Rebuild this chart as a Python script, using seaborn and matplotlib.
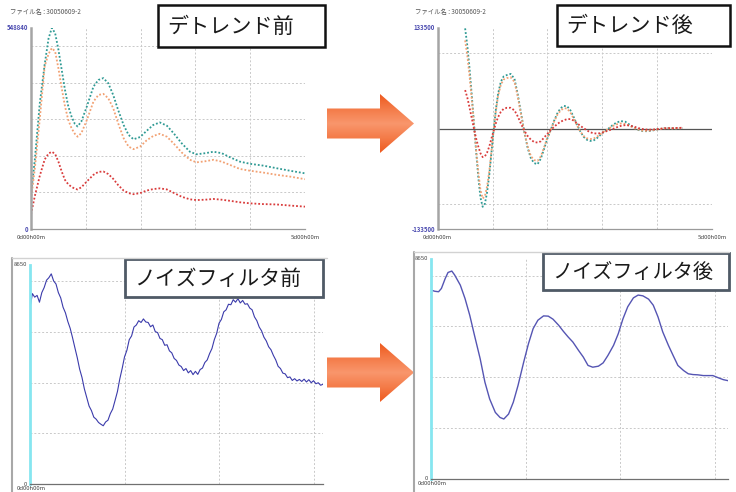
import numpy as np
import matplotlib
matplotlib.use("Agg")
import matplotlib.pyplot as plt
import seaborn as sns
from matplotlib.patches import Polygon, Rectangle
from matplotlib.colors import LinearSegmentedColormap

sns.set_style("white")
plt.rcParams["font.family"] = ["Noto Sans CJK JP", "DejaVu Sans"]

W, H = 736, 492

# detrend before (days, value in thousands)
raw_days = [0.0, 0.07, 0.16, 0.25, 0.32, 0.38, 0.44, 0.50, 0.56, 0.62,
            0.68, 0.74, 0.80, 0.85, 0.92, 1.02, 1.14, 1.23, 1.32, 1.41,
            1.50, 1.59, 1.69, 1.78, 1.87, 1.99, 2.11, 2.23, 2.35, 2.48,
            2.60, 2.75, 2.90, 3.02, 3.18, 3.33, 3.48, 3.63, 3.81, 4.00,
            4.24, 4.48, 4.73, 5.00]
raw_teal = [95, 190, 343, 450, 520, 549, 535, 490, 435, 380,
            335, 307, 287, 280, 294, 335, 389, 407, 412, 398,
            366, 325, 284, 257, 245, 251, 268, 284, 291, 282,
            262, 234, 211, 204, 207, 211, 207, 196, 184, 178,
            173, 166, 159, 152]
raw_orange = [80, 165, 300, 445, 478, 494, 485, 439, 385, 335,
              298, 275, 260, 252, 262, 298, 348, 366, 369, 357,
              330, 289, 248, 225, 218, 225, 242, 254, 260, 252,
              234, 209, 189, 182, 185, 189, 184, 175, 164, 159,
              154, 148, 143, 136]
raw_red = [40, 90, 145, 190, 206, 211, 205, 184, 157, 134,
           122, 115, 110, 108, 114, 130, 148, 156, 157, 150,
           137, 120, 105, 98, 95, 98, 105, 109, 111, 108,
           99, 88, 81, 79, 80, 82, 80, 77, 73, 70,
           68, 67, 64, 61]

# detrend after (days, value in thousands)
det_days = [0.50, 0.54, 0.58, 0.62, 0.66, 0.70, 0.74, 0.78, 0.82, 0.86,
            0.90, 0.94, 0.98, 1.02, 1.06, 1.10, 1.15, 1.20, 1.26, 1.33,
            1.40, 1.46, 1.52, 1.58, 1.64, 1.70, 1.76, 1.82, 1.88, 1.94,
            2.00, 2.06, 2.12, 2.18, 2.24, 2.30, 2.36, 2.42, 2.48, 2.54,
            2.60, 2.66, 2.72, 2.78, 2.84, 2.90, 2.96, 3.02, 3.10, 3.18,
            3.26, 3.34, 3.42, 3.50, 3.58, 3.66, 3.74, 3.82, 3.90, 3.98,
            4.06, 4.14, 4.22, 4.30, 4.38, 4.47]
det_teal = [133, 110, 80, 45, 8, -30, -65, -92, -104, -100,
            -85, -62, -32, -2, 25, 46, 62, 69, 71, 72.5,
            66, 45, 20, -5, -26, -40, -46, -47.5, -40, -27,
            -13, -2, 10, 20, 27, 30, 29.5, 24, 15, 5,
            -4, -11, -15, -16.5, -16, -13, -9, -5, -1, 4,
            8, 9.8, 9, 5, 1, -2, -3.5, -3.6, -3, -1.5,
            -0.5, 0.5, 0.5, 0, 0.3, 0.5]
det_orange = [117, 97, 70, 40, 6, -28, -58, -82, -93, -90,
              -77, -57, -30, -2, 23, 43, 58, 65, 67, 68,
              62, 42, 18, -5, -24, -37, -42, -43, -37, -25,
              -12, -2, 9, 18, 24, 27, 26.5, 21, 13, 4,
              -4, -10, -13, -14, -13.5, -11, -8, -4.5, -1, 3,
              5.5, 6.7, 6, 3.5, 0.5, -1.5, -3, -3.2, -2.5, -1.5,
              -0.5, 0.3, 0.3, 0, 0.3, 0.5]
det_red = [51, 41, 28, 14, 0, -13, -24, -33, -38, -37,
           -32, -24, -13, -3, 7, 15, 22, 26, 27.5, 27.5,
           24, 16, 6, -3, -10, -15, -18, -18.7, -17, -12,
           -7, -2, 2, 6, 9, 11, 12.5, 12.5, 10.5, 7,
           3.5, 0.5, -2.5, -5, -6.3, -6.7, -6.3, -5, -3, -1,
           1.5, 3.5, 4.5, 4, 2.5, 0.5, -0.8, -1.5, -1.5, -1,
           -0.3, 0.3, 0.5, 0.5, 0.8, 1]

# noise filter before: evenly sampled, 0 .. 3.1 days
noisy_vals = [6940, 7520, 7380, 7450, 7180, 7560, 7760, 8050, 8150, 8300,
              8020, 7900, 7560, 7350, 6980, 6760, 6420, 6150, 5780, 5380,
              4990, 4540, 4210, 3760, 3420, 3080, 2900, 2640, 2560, 2430,
              2360, 2300, 2450, 2520, 2780, 2960, 3300, 3650, 4150, 4560,
              5020, 5280, 5700, 5850, 6200, 6280, 6450, 6380, 6520, 6400,
              6380, 6210, 6280, 6020, 5980, 5750, 5700, 5480, 5500, 5260,
              5180, 4960, 4880, 4700, 4640, 4480, 4560, 4390, 4480, 4320,
              4450, 4330, 4520, 4580, 4800, 4900, 5150, 5350, 5700, 5950,
              6350, 6500, 6800, 6880, 7100, 7080, 7280, 7180, 7320, 7150,
              7250, 7100, 7120, 6950, 6880, 6600, 6450, 6200, 6050, 5800,
              5650, 5420, 5300, 5080, 4900, 4650, 4560, 4380, 4350, 4200,
              4230, 4090, 4160, 4070, 4130, 4050, 4140, 4030, 4120, 4000,
              4080, 3960, 4000, 3900, 3940]
noisy_days = np.linspace(0, 3.1, len(noisy_vals))

# noise filter after
filt_days = [0.0, 0.005, 0.04, 0.08, 0.11, 0.15, 0.18, 0.22, 0.25, 0.31,
             0.36, 0.41, 0.46, 0.52, 0.57, 0.62, 0.68, 0.73, 0.77, 0.82,
             0.87, 0.92, 0.98, 1.03, 1.08, 1.13, 1.19, 1.24, 1.29, 1.35,
             1.40, 1.45, 1.50, 1.56, 1.61, 1.66, 1.71, 1.77, 1.82, 1.87,
             1.93, 1.98, 2.03, 2.08, 2.14, 2.19, 2.24, 2.30, 2.35, 2.40,
             2.45, 2.51, 2.56, 2.61, 2.67, 2.72, 2.77, 2.82, 2.88, 2.93,
             2.98, 3.04, 3.09, 3.14]
filt_vals = [6960, 7420, 7380, 7360, 7490, 7880, 8120, 8175, 8020, 7620,
             7090, 6430, 5640, 4720, 3800, 3140, 2610, 2410, 2350, 2545,
             3010, 3670, 4590, 5310, 5910, 6240, 6410, 6400, 6280, 6040,
             5800, 5580, 5380, 5050, 4790, 4460, 4390, 4430, 4560, 4850,
             5250, 5710, 6300, 6770, 7120, 7230, 7200, 7070, 6830, 6370,
             5780, 5250, 4850, 4460, 4260, 4130, 4100, 4090, 4060, 4060,
             4060, 3970, 3900, 3860]

TEAL, ORANGE, RED = "#2f9a94", "#f2a173", "#d93b3b"
BLUE_RAW, BLUE_FILT = "#3b3bab", "#5555b3"
file_label = "ファイル名 : 30050609-2"


def px_box(left, top, right, bottom):
    return [left / W, 1 - bottom / H, (right - left) / W, (bottom - top) / H]


def setup(ax, xmax, vgrid, hgrid, ylim, left_color, left_w):
    ax.set_xlim(0, xmax)
    ax.set_ylim(*ylim)
    ax.set_xticks(vgrid)
    ax.set_yticks(hgrid)
    ax.grid(True, color="#c9c9c9", linestyle=(0, (2, 2)), linewidth=0.7)
    ax.tick_params(length=0, labelbottom=False, labelleft=False)
    ax.set_xlabel("")
    ax.set_ylabel("")
    for s in ["top", "right"]:
        ax.spines[s].set_visible(False)
    ax.spines["left"].set_color(left_color)
    ax.spines["left"].set_linewidth(left_w)
    ax.spines["bottom"].set_color("#9a9a9a")
    ax.spines["bottom"].set_linewidth(0.9)


def small(ax, x, y, s, color="#444444", ha="right", va="center", bold=False):
    ax.text(x, y, s, transform=ax.transAxes, fontsize=4.3, color=color,
            ha=ha, va=va, fontweight="bold" if bold else "normal")


fig = plt.figure(figsize=(W / 100, H / 100), dpi=100)
dot = (0, (1, 1.1))

# top-left: before detrend
ax1 = fig.add_axes(px_box(31, 28, 305, 229))
for vals, c in [(raw_teal, TEAL), (raw_orange, ORANGE), (raw_red, RED)]:
    sns.lineplot(x=raw_days, y=np.array(vals) * 1000, ax=ax1, color=c,
                 linestyle=dot, linewidth=1.3)
setup(ax1, 5, [1, 2, 3, 4, 5], [100000, 200000, 300000, 400000, 500000],
      (0, 548840), "#a5a5a5", 1.8)
small(ax1, -0.01, 1.0, "548840", color="#4b4bb0", bold=True)
small(ax1, -0.01, 0.0, "0", color="#4b4bb0", bold=True)
small(ax1, 0.0, -0.03, "0d00h00m", ha="center", va="top")
small(ax1, 1.0, -0.03, "5d00h00m", ha="center", va="top")

# top-right: after detrend
ax2 = fig.add_axes(px_box(437.7, 28, 712, 229))
for vals, c in [(det_teal, TEAL), (det_orange, ORANGE), (det_red, RED)]:
    sns.lineplot(x=det_days, y=np.array(vals) * 1000, ax=ax2, color=c,
                 linestyle=dot, linewidth=1.3)
ax2.axhline(0, color="#555555", linewidth=0.9, zorder=1)
setup(ax2, 5, [1, 2, 3, 4, 5], [-100000, 100000], (-133500, 133500),
      "#a5a5a5", 1.8)
small(ax2, -0.01, 1.0, "133500", color="#4b4bb0", bold=True)
small(ax2, -0.01, 0.0, "-133500", color="#4b4bb0", bold=True)
small(ax2, 0.0, -0.03, "0d00h00m", ha="center", va="top")
small(ax2, 1.0, -0.03, "5d00h00m", ha="center", va="top")

# bottom-left: before noise filter
ax3 = fig.add_axes(px_box(30, 265, 323, 484))
sns.lineplot(x=noisy_days, y=noisy_vals, ax=ax3, color=BLUE_RAW, linewidth=0.8)
setup(ax3, 3.1, [1, 2, 3], [2000, 4000, 6000, 8000], (0, 8650), "#86e6f0", 2.0)
ax3.spines["bottom"].set_color("#707070")
small(ax3, -0.01, 1.0, "8650")
small(ax3, -0.01, 0.0, "0")
small(ax3, -0.045, -0.01, "0d00h00m", ha="left", va="top")

# bottom-right: after noise filter
ax4 = fig.add_axes(px_box(431, 259, 728, 478.7))
sns.lineplot(x=filt_days, y=filt_vals, ax=ax4, color=BLUE_FILT, linewidth=1.0)
setup(ax4, 3.14, [1, 2, 3], [2000, 4000, 6000, 8000], (0, 8650), "#86e6f0", 2.0)
ax4.spines["bottom"].set_color("#707070")
small(ax4, -0.01, 1.0, "8650")
small(ax4, -0.01, 0.0, "0")
small(ax4, -0.045, -0.01, "0d00h00m", ha="left", va="top")

# overlay in pixel coordinates: file names, frames, label boxes, arrows
ov = fig.add_axes([0, 0, 1, 1], zorder=10)
ov.patch.set_alpha(0)
ov.text(10, 12, file_label, fontsize=4.6, color="#555555", va="center")
ov.text(415, 12, file_label, fontsize=4.6, color="#555555", va="center")

for x0, y0 in [(12, 258), (414, 252)]:
    ov.plot([x0, x0], [y0, H], color="#a8a8a8", linewidth=1.5)
    ov.plot([x0, x0 + 315], [y0, y0], color="#d2d2d2", linewidth=1.0)

boxes = [((158, 5, 167, 42), "デトレンド前", "#111111", 1.8, 15.2),
         ((557, 5, 173, 41), "デトレンド後", "#111111", 1.8, 15.2),
         ((125, 259, 198, 38), "ノイズフィルタ前", "#4f5a66", 2.0, 15.0),
         ((543, 253, 186, 37), "ノイズフィルタ後", "#4f5a66", 2.0, 14.5)]
for (bx, by, bw, bh), label, ec, lw, fs in boxes:
    ov.add_patch(Rectangle((bx, by), bw, bh, facecolor="white", edgecolor=ec,
                           linewidth=lw))
    ov.text(bx + 9, by + bh / 2 + 1, label, fontsize=fs, color="#1a1a1a",
            ha="left", va="center")

cmap = LinearSegmentedColormap.from_list("arrow", ["#f9966c", "#f47b48", "#ee5a1e"])
grad = np.repeat(np.abs(np.linspace(-1, 1, 120))[:, None], 8, axis=1)
for cy in [123.5, 372.5]:
    pts = [(327, cy - 15), (380, cy - 15), (380, cy - 29.5), (414, cy),
           (380, cy + 29.5), (380, cy + 15), (327, cy + 15)]
    poly = Polygon(pts, closed=True, facecolor="none", edgecolor="none")
    ov.add_patch(poly)
    im = ov.imshow(grad, cmap=cmap, vmin=0, vmax=1, aspect="auto",
                   extent=[327, 414, cy + 29.5, cy - 29.5], interpolation="bilinear")
    im.set_clip_path(poly)

ov.set_xlim(0, W)
ov.set_ylim(H, 0)
ov.axis("off")

fig.savefig("out.png", dpi=100, facecolor="white")
